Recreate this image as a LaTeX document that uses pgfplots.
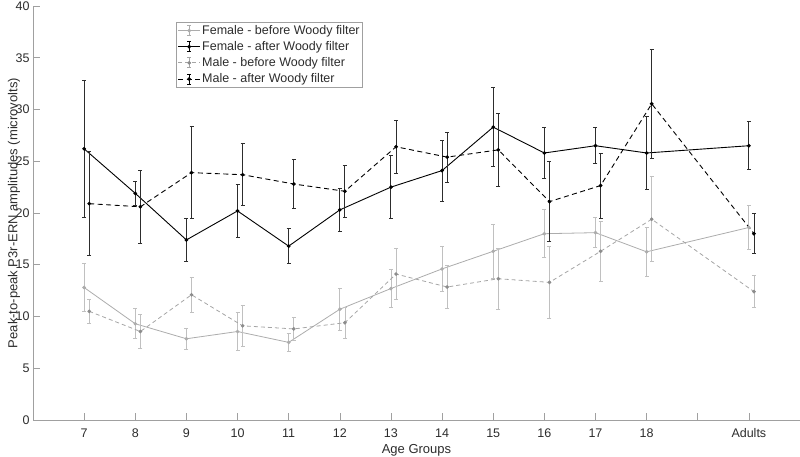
\documentclass[border=0pt]{standalone}
\usepackage{fontspec}
\setmainfont{Liberation Sans}
\usepackage{pgfplots}
\usepackage{pgfplotstable}
\pgfplotsset{compat=1.18}

\definecolor{fbef}{RGB}{172,172,172}
\definecolor{mbef}{RGB}{165,165,165}
\definecolor{mbefm}{RGB}{140,140,140}
\definecolor{ebef}{RGB}{192,192,192}
\definecolor{eaft}{RGB}{45,45,45}
\definecolor{axc}{RGB}{160,160,160}
\definecolor{txc}{RGB}{45,45,45}

% x, mean, error (male series shifted by 0.1)
\pgfplotstableread{
x    y     e
7    12.8  2.3
8    9.3   1.45
9    7.85  1.0
10   8.55  1.8
11   7.5   0.85
12   10.7  2.05
13   12.7  1.85
14   14.6  2.15
15   16.3  2.6
16   18.0  2.3
17   18.1  1.45
18   16.25 2.35
20   18.6  2.1
}\fembefore
\pgfplotstableread{
x    y     e
7    26.2  6.6
8    21.9  1.15
9    17.4  2.05
10   20.2  2.6
11   16.8  1.7
12   20.3  2.05
13   22.5  3.05
14   24.1  2.95
15   28.3  3.8
16   25.8  2.45
17   26.5  1.75
18   25.8  3.55
20   26.5  2.3
}\femafter
\pgfplotstableread{
x     y     e
7.1   10.5  1.15
8.1   8.55  1.65
9.1   12.1  1.7
10.1  9.1   2.0
11.1  8.8   1.1
12.1  9.4   1.5
13.1  14.1  2.45
14.1  12.85 2.1
15.1  13.65 2.95
16.1  13.3  3.5
17.1  16.3  2.9
18.1  19.4  4.1
20.1  12.4  1.55
}\malbefore
\pgfplotstableread{
x     y     e
7.1   20.9  5.0
8.1   20.6  3.5
9.1   23.9  4.45
10.1  23.7  3.0
11.1  22.8  2.35
12.1  22.1  2.5
13.1  26.4  2.55
14.1  25.4  2.4
15.1  26.1  3.55
16.1  21.1  3.85
17.1  22.65 3.15
18.1  30.55 5.25
20.1  18.0  1.95
}\malafter

\begin{document}
\begin{tikzpicture}
\begin{axis}[
    scale only axis, width=767pt, height=414pt,
    xmin=6, xmax=21, ymin=0, ymax=40,
    axis lines*=left,
    axis line style={axc, line width=0.6pt},
    tick style={axc, line width=0.6pt},
    tick align=inside, major tick length=7pt,
    xtick={7,8,...,20},
    xticklabels={7,8,9,10,11,12,13,14,15,16,17,18,{},Adults},
    ytick={0,5,...,40},
    ticklabel style={font=\fontsize{12.5}{14}\selectfont, text=txc},
    xticklabel style={yshift=-5pt},
    /pgf/number format/assume math mode=true,
    xlabel={Age Groups},
    ylabel={Peak-to-peak P3r-ERN amplitudes (microvolts)},
    every axis x label/.style={at={(axis description cs:0.5,-0.0725)}, anchor=center,
        font=\fontsize{13}{15}\selectfont, text=txc},
    every axis y label/.style={at={(axis description cs:-0.0248,0.5)}, rotate=90, anchor=center,
        font=\fontsize{13}{15}\selectfont, text=txc},
    legend style={at={(axis description cs:0.1864,0.9614)}, anchor=north west,
        draw=axc, line width=0.6pt, font=\fontsize{12.5}{14}\selectfont, text=txc,
        inner sep=1.5pt, row sep=2.6pt, nodes={inner sep=1.5pt}},
    legend cell align=left,
    legend image code/.code={
        \draw[#1] (0pt,0pt) -- (22pt,0pt);
        \draw[#1,solid] (11pt,-5pt) -- (11pt,5pt) (9pt,-5pt) -- (13pt,-5pt) (9pt,5pt) -- (13pt,5pt);
        \draw[mark repeat=2,mark phase=2,#1] plot coordinates {(0pt,0pt)(11pt,0pt)(22pt,0pt)};
    },
    error bars/y dir=both, error bars/y explicit,
]
\addplot[fbef, line width=0.8pt, mark=*, mark size=1.4pt, mark options={solid, fill=fbef},
    error bars/.cd, error bar style={ebef, line width=0.8pt, solid},
    error mark options={rotate=90, mark size=2pt, ebef, line width=0.8pt}]
    table[x=x, y=y, y error=e] {\fembefore};
\addlegendentry{Female - before Woody filter}
\addplot[black, line width=0.9pt, mark=*, mark size=1.4pt, mark options={solid, fill=black},
    error bars/.cd, error bar style={eaft, line width=0.9pt, solid},
    error mark options={rotate=90, mark size=2pt, eaft, line width=0.9pt}]
    table[x=x, y=y, y error=e] {\femafter};
\addlegendentry{Female - after Woody filter}
\addplot[mbef, line width=0.8pt, dash pattern=on 4pt off 3pt, mark=*, mark size=1.4pt,
    mark options={solid, mbefm, fill=mbefm},
    error bars/.cd, error bar style={ebef, line width=0.8pt, solid},
    error mark options={rotate=90, mark size=2pt, ebef, line width=0.8pt}]
    table[x=x, y=y, y error=e] {\malbefore};
\addlegendentry{Male - before Woody filter}
\addplot[black, line width=0.9pt, dash pattern=on 5pt off 3.5pt, mark=*, mark size=1.4pt,
    mark options={solid, fill=black},
    error bars/.cd, error bar style={eaft, line width=0.9pt, solid},
    error mark options={rotate=90, mark size=2pt, eaft, line width=0.9pt}]
    table[x=x, y=y, y error=e] {\malafter};
\addlegendentry{Male - after Woody filter}
\end{axis}
\pgfresetboundingbox
\path[use as bounding box] (-33pt,-36pt) rectangle (767pt,420pt);
\end{tikzpicture}
\end{document}
